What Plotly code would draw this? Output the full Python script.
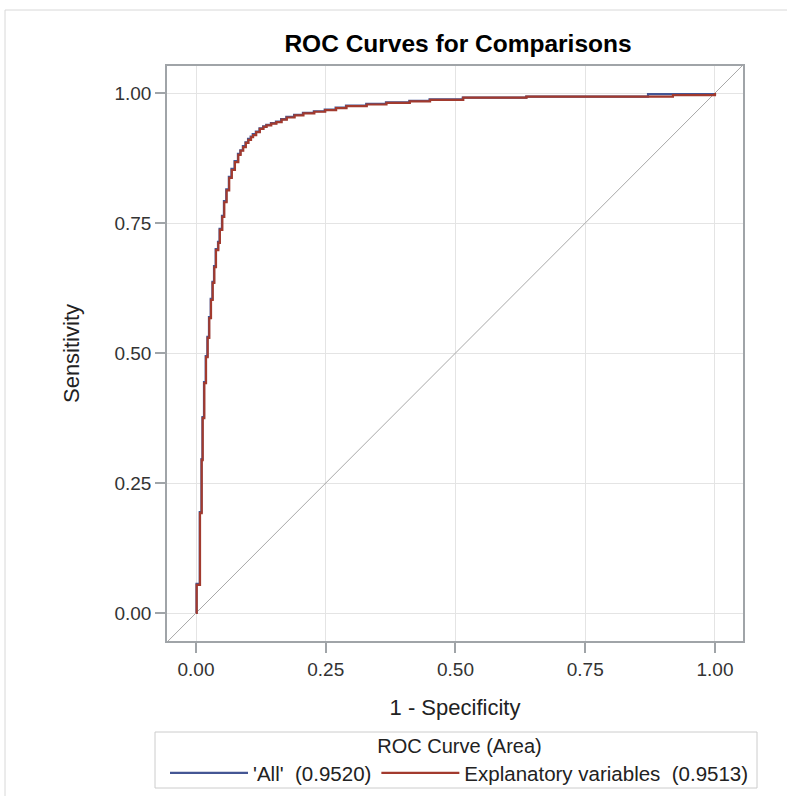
import plotly.graph_objects as go

# ROC curve corner points (1 - specificity, sensitivity)
red_fpr = [0.0, 0.0013, 0.0077, 0.011, 0.0129, 0.016, 0.0193, 0.0225, 0.0256, 0.0289,
           0.0322, 0.0353, 0.0385, 0.043, 0.046, 0.0507, 0.0545, 0.059, 0.064, 0.069,
           0.075, 0.0815, 0.086, 0.091, 0.096, 0.101, 0.106, 0.110, 0.116, 0.123,
           0.130, 0.136, 0.145, 0.155, 0.165, 0.175, 0.190, 0.207, 0.228, 0.249,
           0.270, 0.290, 0.329, 0.367, 0.412, 0.451, 0.515, 0.637, 0.919, 1.0]
red_tpr = [0.0, 0.054, 0.192, 0.294, 0.375, 0.442, 0.492, 0.529, 0.567, 0.602,
           0.635, 0.665, 0.698, 0.712, 0.737, 0.762, 0.790, 0.813, 0.837, 0.852,
           0.867, 0.881, 0.889, 0.896, 0.904, 0.910, 0.915, 0.919, 0.925, 0.931,
           0.935, 0.938, 0.941, 0.944, 0.949, 0.953, 0.957, 0.961, 0.964, 0.967,
           0.971, 0.975, 0.978, 0.981, 0.984, 0.987, 0.991, 0.993, 0.996, 1.0]

blue_fpr = [0.0, 0.0010, 0.0072, 0.0105, 0.0124, 0.0154, 0.0187, 0.0219, 0.0250, 0.0283,
            0.0316, 0.0347, 0.0379, 0.0424, 0.0454, 0.0500, 0.0538, 0.0583, 0.0633, 0.0683,
            0.0743, 0.0808, 0.0853, 0.0903, 0.0953, 0.1003, 0.1053, 0.1093, 0.1153, 0.1223,
            0.1293, 0.1353, 0.1443, 0.1540, 0.1640, 0.1740, 0.1890, 0.2060, 0.2270, 0.2480,
            0.2690, 0.2890, 0.3280, 0.3660, 0.4110, 0.4500, 0.5140, 0.6360, 0.871, 1.0]
blue_tpr = [0.0, 0.056, 0.194, 0.296, 0.377, 0.444, 0.494, 0.531, 0.569, 0.604,
            0.637, 0.667, 0.700, 0.714, 0.739, 0.764, 0.792, 0.815, 0.839, 0.854,
            0.869, 0.883, 0.890, 0.898, 0.905, 0.912, 0.916, 0.921, 0.926, 0.932,
            0.936, 0.939, 0.942, 0.945, 0.950, 0.954, 0.958, 0.962, 0.965, 0.968,
            0.972, 0.976, 0.979, 0.982, 0.985, 0.988, 0.991, 0.993, 0.998, 1.0]

series_names = ["'All'  (0.9520)", "Explanatory variables  (0.9513)"]
tick_vals = [0.0, 0.25, 0.5, 0.75, 1.0]
tick_text = ["0.00", "0.25", "0.50", "0.75", "1.00"]
diag = [-0.1, 1.1]

BLUE = "#445694"
RED = "#A23A2E"
FONT = "Liberation Sans, Arial, sans-serif"

W, H = 787, 796
L, R, T, B = 167, 44, 66, 155
PW, PH = W - L - R, H - T - B


def px(xp):
    return (xp - L) / PW


def py(yp):
    return (H - B - yp) / PH


fig = go.Figure()
fig.add_trace(go.Scatter(x=diag, y=diag, mode="lines", line=dict(color="#a8a8a8", width=1),
                         showlegend=False, hoverinfo="skip"))
fig.add_trace(go.Scatter(x=blue_fpr, y=blue_tpr, mode="lines", name=series_names[0],
                         line=dict(color=BLUE, width=2.2, shape="hv")))
fig.add_trace(go.Scatter(x=red_fpr, y=red_tpr, mode="lines", name=series_names[1],
                         line=dict(color=RED, width=2.2, shape="hv")))

axis_common = dict(
    showgrid=True, gridcolor="#e4e4e4", gridwidth=1,
    zeroline=False, showline=True, linecolor="#a0a4a8", linewidth=1.5, mirror=True,
    ticks="outside", ticklen=10, tickcolor="#a0a4a8", tickwidth=1.5,
    tickvals=tick_vals, ticktext=tick_text,
    tickfont=dict(family=FONT, size=19, color="#333333"),
)

fig.update_layout(
    width=W, height=H,
    margin=dict(l=L, r=R, t=T, b=B, autoexpand=False),
    paper_bgcolor="white", plot_bgcolor="white",
    font=dict(family=FONT, color="#222222"),
    title=dict(text="<b>ROC Curves for Comparisons</b>", x=458 / W, xanchor="center",
               y=1 - 43 / H, yanchor="middle",
               font=dict(family=FONT, size=24.5, color="#000000")),
    xaxis=dict(range=[-0.0559, 1.054], title=dict(text="1 - Specificity", standoff=21,
               font=dict(family=FONT, size=22, color="#222222")), **axis_common),
    yaxis=dict(range=[-0.0538, 1.052], title=dict(text="Sensitivity", standoff=29,
               font=dict(family=FONT, size=22, color="#222222")), **axis_common),
    legend=dict(orientation="h", xref="paper", yref="paper",
                x=px(165), xanchor="left", y=py(727), yanchor="top",
                title=dict(text="ROC Curve (Area)", side="top center",
                           font=dict(family=FONT, size=20, color="#222222")),
                font=dict(family=FONT, size=20.5, color="#222222"),
                itemwidth=78, bgcolor="rgba(0,0,0,0)", borderwidth=0),
    shapes=[
        dict(type="rect", xref="paper", yref="paper",
             x0=px(155), x1=px(757), y0=py(788), y1=py(732),
             line=dict(color="#cccccc", width=1)),
        dict(type="line", xref="paper", yref="paper",
             x0=px(5), x1=px(800), y0=py(10), y1=py(10),
             line=dict(color="#d8d8d8", width=1)),
        dict(type="line", xref="paper", yref="paper",
             x0=px(5), x1=px(5), y0=py(10), y1=py(810),
             line=dict(color="#d8d8d8", width=1)),
    ],
)

fig.write_html("out.html", config={"displayModeBar": False},
               post_script="document.body.style.margin='0px';")
